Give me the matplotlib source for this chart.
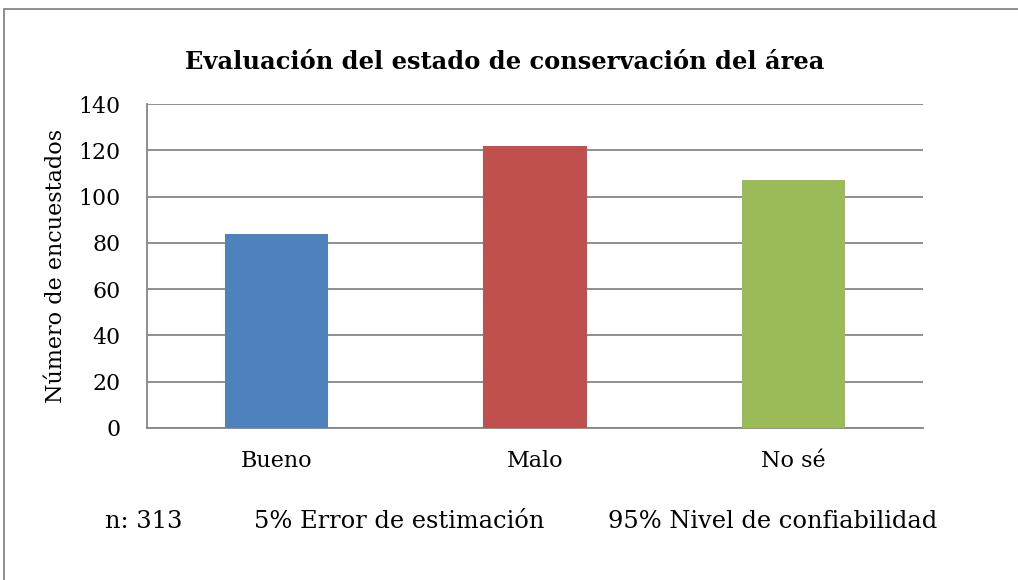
import matplotlib
matplotlib.use("Agg")
import matplotlib.pyplot as plt
from matplotlib.patches import Rectangle
import numpy as np

# datos
categorias = ["Bueno", "Malo", "No sé"]
encuestados = [84, 122, 107]
colores = ["#4F81BD", "#C0504D", "#9BBB59"]
titulo = "Evaluación del estado de conservación del área"
etiqueta_y = "Número de encuestados"
notas = ["n: 313", "5% Error de estimación", "95% Nivel de confiabilidad"]
yticks = [0, 20, 40, 60, 80, 100, 120, 140]

plt.rcParams['font.family'] = ['DejaVu Serif']

W, H = 1018, 580
fig = plt.figure(figsize=(W / 100, H / 100), dpi=100)
ax = fig.add_axes([147 / W, 1 - 428 / H, (923 - 147) / W, (428 - 104) / H])

x = np.arange(len(categorias))
ax.bar(x, encuestados, width=0.40, color=colores, zorder=3)

ax.set_xlim(-0.5, len(categorias) - 0.5)
ax.set_ylim(0, 140)
ax.set_yticks(yticks)
ax.set_xticks(x)
ax.set_xticklabels(categorias, fontsize=16)
ax.tick_params(axis="y", labelsize=15.8, length=0, pad=19)
ax.tick_params(axis="x", length=0, pad=16)
ax.grid(axis="y", color="#868686", linewidth=1.3, zorder=0)
for s in ["top", "right"]:
    ax.spines[s].set_visible(False)
for s in ["left", "bottom"]:
    ax.spines[s].set_color("#868686")
    ax.spines[s].set_linewidth(1.3)
ax.set_ylabel(etiqueta_y, fontsize=16, labelpad=8)

fig.text(505 / W, 1 - 62 / H, titulo, fontsize=17.4, fontweight="bold",
         ha="center", va="center")

nota_x = [105, 254, 608]
for xx, t in zip(nota_x, notas):
    fig.text(xx / W, 1 - 522 / H, t, fontsize=17.4, ha="left", va="center")

# marco del gráfico
fig.patches.append(Rectangle((4 / W, -0.1), 1.2, 1 - 9 / H + 0.1,
                             transform=fig.transFigure, fill=False,
                             edgecolor="#868686", linewidth=1.3))

plt.savefig("out.png", dpi=100)
